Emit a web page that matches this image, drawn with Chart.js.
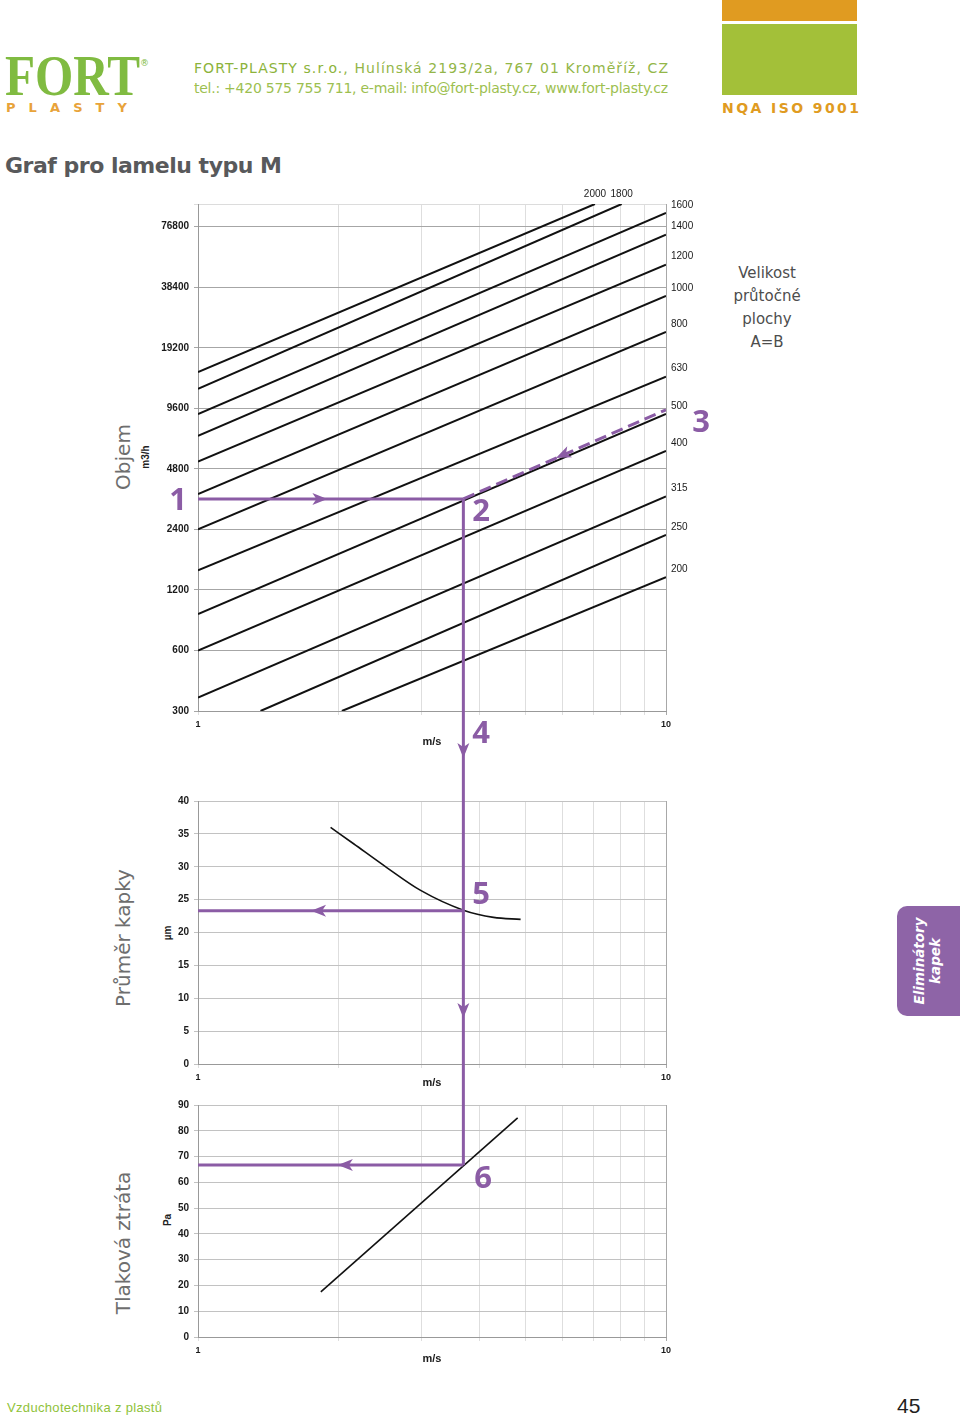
<!DOCTYPE html>
<html>
<head>
<meta charset="utf-8">
<script src="https://cdn.jsdelivr.net/npm/chart.js@4.4.1/dist/chart.umd.min.js"></script>
<style>
  body { margin: 0; background: #fff; }
  #page { position: relative; width: 960px; height: 1417px; overflow: hidden; font-family: "DejaVu Sans", sans-serif; background: #fff; }
  .t { position: absolute; white-space: nowrap; line-height: 1; }
  .box { position: absolute; }
  .num { position: absolute; font-family: "Open Sans", "Liberation Sans", sans-serif; font-weight: 700; font-size: 31px; color: #8b5ca5; line-height: 1; transform: translate(-50%, -50%); }
  .side { position: absolute; color: #6e6e6e; font-size: 20px; line-height: 1; white-space: nowrap; transform: translate(-50%, -50%) rotate(-90deg); }
  .unit { position: absolute; color: #222; font-family: "Liberation Sans", Arial, sans-serif; font-weight: bold; font-size: 10px; line-height: 1; white-space: nowrap; transform: translate(-50%, -50%) rotate(-90deg); }
</style>
</head>
<body>
<div id="page">
  <!-- hlavička -->
  <div class="t" id="logo" style="left:5px;top:76px;font-family:'Liberation Serif',serif;font-weight:bold;font-size:56px;color:#80bb41;">FORT</div>
  <div class="t" style="left:140px;top:59px;font-size:9px;color:#80bb41;">®</div>
  <div class="t" data-fit="121" style="left:6px;top:107px;font-size:13px;font-weight:bold;color:#e8a33a;">PLASTY</div>
  <div class="t" data-fit="474" style="left:194px;top:68px;font-size:14px;color:#93b648;"><span style="color:#8cb33a">FORT-PLASTY s.r.o.</span>, Hulínská 2193/2a, 767 01 Kroměříž, CZ</div>
  <div class="t" data-fit="474" style="left:194px;top:88px;font-size:14px;color:#9dbf50;">tel.: +420 575 755 711, e-mail: info@fort-plasty.cz, www.fort-plasty.cz</div>
  <div class="box" style="left:722px;top:0;width:135px;height:21px;background:#e09b21;"></div>
  <div class="box" style="left:722px;top:24px;width:135px;height:71px;background:#a3c039;"></div>
  <div class="t" data-fit="137" style="left:722px;top:108px;font-size:14px;font-weight:bold;color:#e09b21;">NQA ISO 9001</div>

  <div class="t" data-fit="277" style="left:5px;top:166px;font-size:22px;font-weight:bold;color:#58595b;">Graf pro lamelu typu M</div>

  <!-- popisky os -->
  <div class="side" style="left:123px;top:457px;">Objem</div>
  <div class="unit" style="left:146px;top:457px;">m3/h</div>
  <div class="side" style="left:123px;top:938px;">Průměr kapky</div>
  <div class="unit" style="left:168px;top:933px;">µm</div>
  <div class="side" style="left:123px;top:1243px;">Tlaková ztráta</div>
  <div class="unit" style="left:168px;top:1220px;">Pa</div>

  <div class="t" style="left:767px;top:273px;transform:translate(-50%,-50%);font-size:15px;color:#4d4d4d;">Velikost</div>
  <div class="t" style="left:767px;top:296px;transform:translate(-50%,-50%);font-size:15px;color:#4d4d4d;">průtočné</div>
  <div class="t" style="left:767px;top:319px;transform:translate(-50%,-50%);font-size:15px;color:#4d4d4d;">plochy</div>
  <div class="t" style="left:767px;top:342px;transform:translate(-50%,-50%);font-size:15px;color:#4d4d4d;">A=B</div>

  <!-- grafy -->
  <div class="box" style="left:100px;top:180px;"><canvas id="flowChart" width="620" height="590"></canvas></div>
  <div class="box" style="left:100px;top:770px;"><canvas id="dropChart" width="620" height="320"></canvas></div>
  <div class="box" style="left:100px;top:1090px;"><canvas id="lossChart" width="620" height="290"></canvas></div>

  <!-- kroky postupu -->
  <div class="num" style="left:178px;top:498px;">1</div>
  <div class="num" style="left:481px;top:509px;">2</div>
  <div class="num" style="left:701px;top:420px;">3</div>
  <div class="num" style="left:481px;top:731px;">4</div>
  <div class="num" style="left:481px;top:892px;">5</div>
  <div class="num" style="left:483px;top:1176px;">6</div>

  <!-- záložka -->
  <div class="box" style="left:897px;top:906px;width:63px;height:110px;background:#8e64a7;border-radius:10px 0 0 10px;"></div>
  <div class="t" style="left:928px;top:961px;transform:translate(-50%,-50%) rotate(-90deg);color:#fff;font-size:13.5px;font-weight:bold;font-style:italic;text-align:center;line-height:1.15;">Eliminátory<br>kapek</div>

  <!-- patička -->
  <div class="t" data-fit="155" style="left:7px;top:1407px;font-family:'Liberation Sans',Arial,sans-serif;font-size:13px;color:#8fc23a;">Vzduchotechnika z plastů</div>
  <div class="t" style="left:897px;top:1405px;font-family:'Liberation Sans',Arial,sans-serif;font-size:21px;color:#231f20;transform:translateY(-50%);">45</div>
</div>

<script>
// velikost průtočné plochy A=B (mm)
const sizes = [2000, 1800, 1600, 1400, 1200, 1000, 800, 630, 500, 400, 315, 250, 200];
// viditelné konce čar: rychlost (m/s) a objem (m3/h)
const startSpeed = [1, 1, 1, 1, 1, 1, 1, 1, 1, 1, 1, 1.36, 2.03];
const startFlow = [14530, 12000, 8980, 7000, 5220, 3600, 2400, 1500, 910, 600, 350, 300, 300];
const endSpeed = [7.05, 8.04, 10, 10, 10, 10, 10, 10, 10, 10, 10, 10, 10];
const endFlow = [99600, 99600, 89900, 70100, 49700, 34800, 23000, 13800, 9010, 5900, 3500, 2250, 1390];

const flowTicks = [300, 600, 1200, 2400, 4800, 9600, 19200, 38400, 76800];
const flowMax = 99600;
const speedTicks = [1, 2, 3, 4, 5, 6, 7, 8, 9, 10];

// průměr kapky (µm)
const dropSpeed = [1.92, 2.15, 2.54, 2.99, 3.69, 4.28, 4.89];
const dropSize = [36.0, 33.5, 29.8, 26.4, 23.4, 22.3, 22.0];

// tlaková ztráta (Pa)
const lossSpeed = [1.83, 4.82];
const lossPa = [17.5, 85];

// ukázkový postup (fialová)
const exSpeed = 3.69;
const exFlow = 3400;
const exFlowEdge = 9440;
const exDrop = 23.3;
const exLoss = 66.7;

const purple = "#8b5ca5";

// šířky textů v hlavičce
document.querySelectorAll("[data-fit]").forEach(el => {
    const w = +el.dataset.fit;
    const n = el.textContent.length;
    const cur = el.getBoundingClientRect().width;
    el.style.letterSpacing = ((w - cur) / (n - 1)) + "px";
    el.style.transform = "translateY(-50%)";
});
const logo = document.getElementById("logo");
logo.style.transformOrigin = "left center";
logo.style.transform = "translateY(-50%) scaleX(" + (135 / logo.getBoundingClientRect().width) + ")";

Chart.defaults.font.family = "'Liberation Sans', Arial, sans-serif";
Chart.defaults.color = "#1a1a1a";
Chart.defaults.animation = false;

function drawArrow(ctx, x, y, tx, ty) {
    const ang = Math.atan2(ty - y, tx - x);
    const L = 15, W = 6;
    ctx.save();
    ctx.translate(x, y);
    ctx.rotate(ang);
    ctx.beginPath();
    ctx.moveTo(0, 0);
    ctx.lineTo(-L, -W);
    ctx.lineTo(-L + 4, 0);
    ctx.lineTo(-L, W);
    ctx.closePath();
    ctx.fill();
    ctx.restore();
}

// svislá fialová čára přes celý canvas + šipky
const guidePlugin = {
    id: "guide",
    afterDatasetsDraw(chart, args, opts) {
        const ctx = chart.ctx;
        const xs = chart.scales.x, ys = chart.scales.y;
        ctx.save();
        ctx.strokeStyle = purple;
        ctx.fillStyle = purple;
        ctx.lineWidth = 3;
        const x = xs.getPixelForValue(exSpeed);
        const y0 = opts.vFrom == null ? 0 : ys.getPixelForValue(opts.vFrom);
        const y1 = opts.vTo == null ? chart.height : ys.getPixelForValue(opts.vTo);
        ctx.beginPath();
        ctx.moveTo(x, y0);
        ctx.lineTo(x, y1);
        ctx.stroke();
        (opts.arrows || []).forEach(a => {
            drawArrow(ctx, xs.getPixelForValue(a.x), ys.getPixelForValue(a.y),
                xs.getPixelForValue(a.tx), ys.getPixelForValue(a.ty));
        });
        ctx.restore();
    }
};

// popisky velikostí u konců čar
const sizeLabels = {
    id: "sizeLabels",
    afterDraw(chart) {
        const ctx = chart.ctx;
        const xs = chart.scales.x, ys = chart.scales.y;
        ctx.save();
        ctx.font = "10px 'Liberation Sans', Arial, sans-serif";
        ctx.fillStyle = "#1a1a1a";
        ctx.textBaseline = "middle";
        sizes.forEach((s, i) => {
            if (endSpeed[i] >= 10) {
                ctx.textAlign = "left";
                ctx.fillText(String(s), xs.getPixelForValue(10) + 5, ys.getPixelForValue(endFlow[i]) - 8);
            } else {
                ctx.textAlign = "center";
                ctx.fillText(String(s), xs.getPixelForValue(endSpeed[i]), chart.chartArea.top - 10);
            }
        });
        ctx.restore();
    }
};

function speedAxis(height, titlePad) {
    return {
        type: "logarithmic",
        min: 1,
        max: 10,
        afterBuildTicks: s => { s.ticks = speedTicks.map(v => ({ value: v })); },
        afterFit: s => { s.height = height; },
        ticks: {
            autoSkip: false,
            maxRotation: 0,
            padding: 4,
            font: { size: 9, weight: "bold" },
            callback: v => (v === 1 || v === 10) ? String(v) : ""
        },
        grid: {
            tickLength: 4,
            color: c => c.tick && c.tick.value === 10 ? "#a8a8a8" : "#dedede"
        },
        border: { color: "#999" },
        title: {
            display: true,
            text: "m/s",
            font: { size: 11, weight: "bold" },
            padding: { top: 0, bottom: titlePad }
        }
    };
}

function line(data, color, width, extra) {
    return Object.assign({
        data: data,
        showLine: true,
        borderColor: color,
        borderWidth: width,
        pointRadius: 0,
        fill: false
    }, extra || {});
}

// 1) objem
const flowSets = [
    line([{ x: 1, y: exFlow }, { x: exSpeed, y: exFlow }], purple, 3),
    line([{ x: exSpeed, y: exFlow }, { x: 10, y: exFlowEdge }], purple, 3, { borderDash: [12, 6] })
];
sizes.forEach((s, i) => {
    flowSets.push(line([{ x: startSpeed[i], y: startFlow[i] }, { x: endSpeed[i], y: endFlow[i] }], "#111", 2));
});

new Chart(document.getElementById("flowChart"), {
    type: "scatter",
    data: { datasets: flowSets },
    plugins: [guidePlugin, sizeLabels],
    options: {
        responsive: false,
        layout: { padding: { top: 24, right: 54, left: 0, bottom: 0 } },
        plugins: {
            legend: { display: false },
            tooltip: { enabled: false },
            guide: {
                vFrom: exFlow,
                vTo: null,
                arrows: [
                    { x: 1.89, y: exFlow, tx: exSpeed, ty: exFlow },
                    { x: 5.82, y: 5440, tx: exSpeed, ty: exFlow },
                    { x: exSpeed, y: 175, tx: exSpeed, ty: 100 }
                ]
            }
        },
        scales: {
            x: speedAxis(59, 21),
            y: {
                type: "logarithmic",
                min: 300,
                max: flowMax,
                afterBuildTicks: s => { s.ticks = flowTicks.concat([flowMax]).map(v => ({ value: v })); },
                afterFit: s => { s.width = 98; },
                ticks: {
                    autoSkip: false,
                    padding: 5,
                    font: { size: 10, weight: "bold" },
                    callback: v => v === flowMax ? "" : String(v)
                },
                grid: {
                    tickLength: 4,
                    color: c => c.tick && c.tick.value === flowMax ? "#dcdcdc" : "#a6a6a6"
                },
                border: { color: "#999" }
            }
        }
    }
});

// 2) průměr kapky
new Chart(document.getElementById("dropChart"), {
    type: "scatter",
    data: {
        datasets: [
            line([{ x: 1, y: exDrop }, { x: exSpeed, y: exDrop }], purple, 3),
            line(dropSpeed.map((v, i) => ({ x: v, y: dropSize[i] })), "#111", 1.6, { cubicInterpolationMode: "monotone" })
        ]
    },
    plugins: [guidePlugin],
    options: {
        responsive: false,
        layout: { padding: { top: 31, right: 54, left: 0, bottom: 0 } },
        plugins: {
            legend: { display: false },
            tooltip: { enabled: false },
            guide: {
                vFrom: null,
                vTo: null,
                arrows: [
                    { x: exSpeed, y: 7.0, tx: exSpeed, ty: 0 },
                    { x: 1.744, y: exDrop, tx: 1, ty: exDrop }
                ]
            }
        },
        scales: {
            x: speedAxis(26, 0),
            y: {
                type: "linear",
                min: 0,
                max: 40,
                afterFit: s => { s.width = 98; },
                ticks: { stepSize: 5, padding: 5, font: { size: 10, weight: "bold" } },
                grid: { tickLength: 4, color: "#c2c2c2" },
                border: { color: "#999" }
            }
        }
    }
});

// 3) tlaková ztráta
new Chart(document.getElementById("lossChart"), {
    type: "scatter",
    data: {
        datasets: [
            line([{ x: 1, y: exLoss }, { x: exSpeed, y: exLoss }], purple, 3),
            line(lossSpeed.map((v, i) => ({ x: v, y: lossPa[i] })), "#111", 1.6)
        ]
    },
    plugins: [guidePlugin],
    options: {
        responsive: false,
        layout: { padding: { top: 15, right: 54, left: 0, bottom: 0 } },
        plugins: {
            legend: { display: false },
            tooltip: { enabled: false },
            guide: {
                vFrom: null,
                vTo: exLoss,
                arrows: [
                    { x: 1.99, y: exLoss, tx: 1, ty: exLoss }
                ]
            }
        },
        scales: {
            x: speedAxis(43, 14),
            y: {
                type: "linear",
                min: 0,
                max: 90,
                afterFit: s => { s.width = 98; },
                ticks: { stepSize: 10, padding: 5, font: { size: 10, weight: "bold" } },
                grid: { tickLength: 4, color: "#c2c2c2" },
                border: { color: "#999" }
            }
        }
    }
});
</script>
</body>
</html>
